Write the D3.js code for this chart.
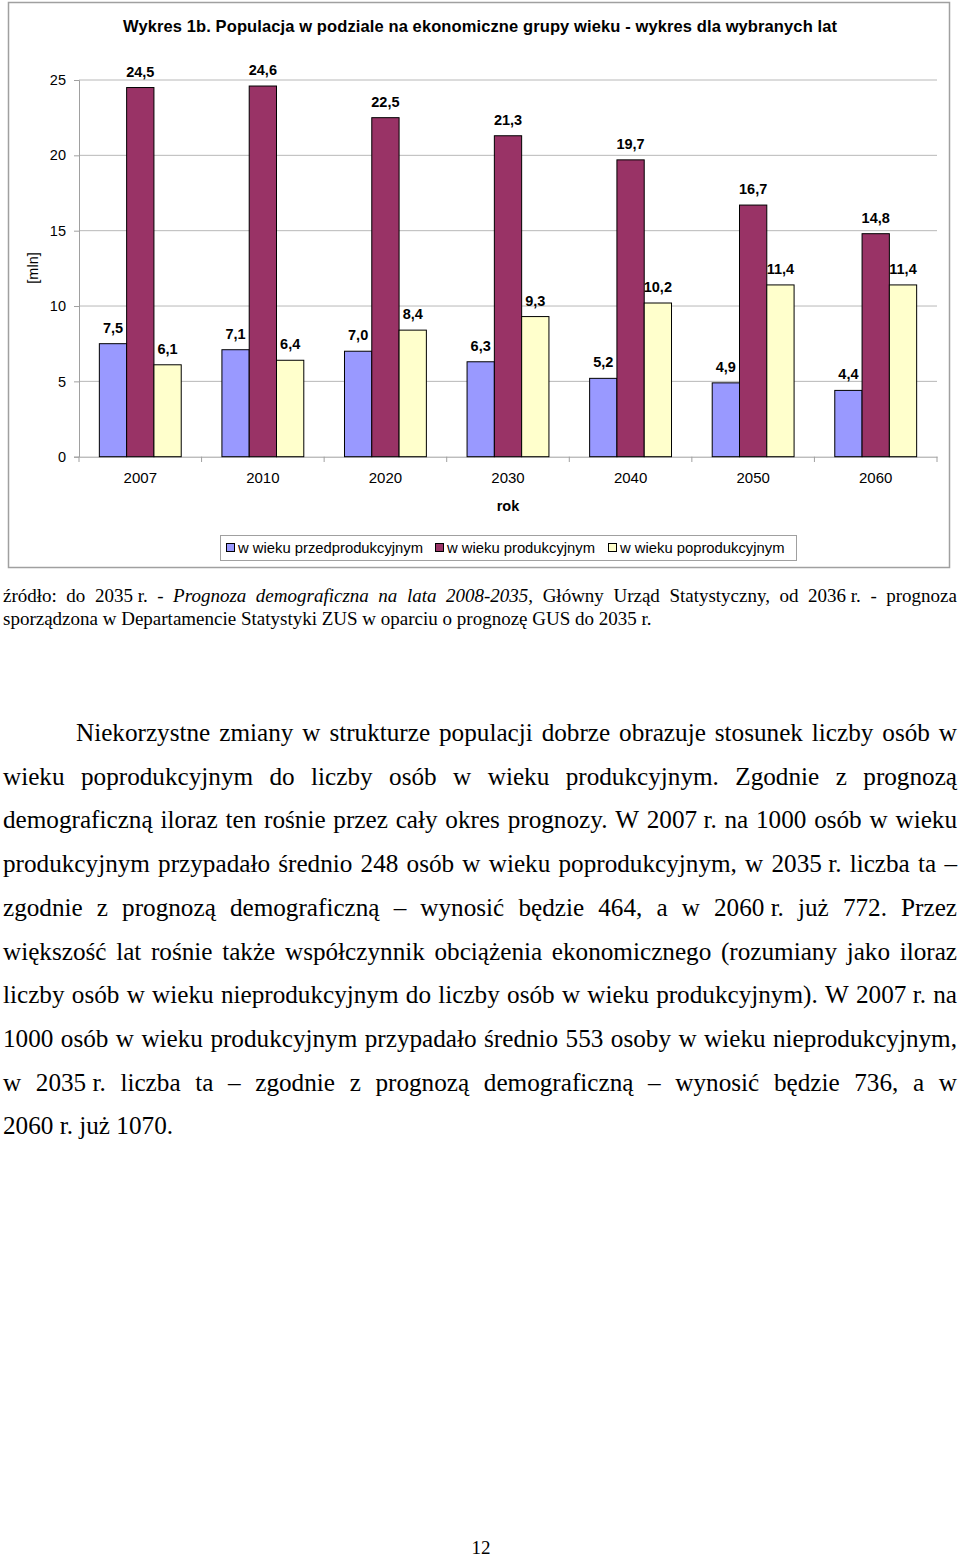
<!DOCTYPE html>
<html><head><meta charset="utf-8">
<script src="https://cdn.jsdelivr.net/npm/d3@7"></script>
<style>html,body{margin:0;padding:0;background:#fff;}svg{display:block;}</style>
</head><body>
<script>
const years = ["2007","2010","2020","2030","2040","2050","2060"];
const seriesNames = ["w wieku przedprodukcyjnym","w wieku produkcyjnym","w wieku poprodukcyjnym"];
const przed = [7.5,7.1,7.0,6.3,5.2,4.9,4.4];
const prod = [24.5,24.6,22.5,21.3,19.7,16.7,14.8];
const popr = [6.1,6.4,8.4,9.3,10.2,11.4,11.4];
const seriesValues = [przed, prod, popr];
const seriesColors = ["#9999FF","#993366","#FFFFCC"];
const yTicks = [0,5,10,15,20,25];
const titleText = "Wykres 1b. Populacja w podziale na ekonomiczne grupy wieku - wykres dla wybranych lat";
const yTitle = "[mln]";
const xTitle = "rok";

const sourceLines = [
  {justify:true, words:[[["źródło:",0]],[["do",0]],[["2035 r.",0]],[["-",0]],[["Prognoza",1]],[["demograficzna",1]],[["na",1]],[["lata",1]],[["2008-2035",1],[",",0]],[["Główny",0]],[["Urząd",0]],[["Statystyczny,",0]],[["od",0]],[["2036 r.",0]],[["-",0]],[["prognoza",0]]]},
  {justify:false, words:"sporządzona w Departamencie Statystyki ZUS w oparciu o prognozę GUS do 2035 r.".split(/ (?!r\.)/).map(w=>[[w,0]])}
];
const paraLines = [
  "Niekorzystne zmiany w strukturze populacji dobrze obrazuje stosunek liczby osób w",
  "wieku poprodukcyjnym do liczby osób w wieku produkcyjnym. Zgodnie z prognozą",
  "demograficzną iloraz ten rośnie przez cały okres prognozy. W 2007 r. na 1000 osób w wieku",
  "produkcyjnym przypadało średnio 248 osób w wieku poprodukcyjnym, w 2035 r. liczba ta –",
  "zgodnie z prognozą demograficzną – wynosić będzie 464, a w 2060 r. już 772. Przez",
  "większość lat rośnie także współczynnik obciążenia ekonomicznego (rozumiany jako iloraz",
  "liczby osób w wieku nieprodukcyjnym do liczby osób w wieku produkcyjnym). W 2007 r. na",
  "1000 osób w wieku produkcyjnym przypadało średnio 553 osoby w wieku nieprodukcyjnym,",
  "w 2035 r. liczba ta – zgodnie z prognozą demograficzną – wynosić będzie 736, a w",
  "2060 r. już 1070."
];
const pageNumber = "12";

const W = 960, H = 1559;
const svg = d3.select("body").append("svg").attr("width", W).attr("height", H);
const arial = "Liberation Sans, Arial, sans-serif";
const serif = "Liberation Serif, 'Times New Roman', serif";

// chart frame
svg.append("rect").attr("x",8.5).attr("y",2.5).attr("width",941).attr("height",565)
  .attr("fill","#fff").attr("stroke","#a0a0a0").attr("stroke-width",1.5);

svg.append("text").attr("x",480).attr("y",32).attr("text-anchor","middle")
  .attr("font-family",arial).attr("font-weight","bold").attr("font-size",16.5)
  .attr("textLength",714).attr("lengthAdjust","spacing").text(titleText);

const x0 = d3.scaleBand().domain(years).range([79,937]).paddingInner(0).paddingOuter(0);
const bw = x0.bandwidth();
const x1 = d3.scaleBand().domain(d3.range(3)).range([bw*0.166, bw*0.834]).padding(0);
const y = d3.scaleLinear().domain([0,25]).range([456.7,80]);

// grid
svg.append("g").selectAll("line").data(yTicks.filter(d=>d>0)).join("line")
  .attr("x1",79).attr("x2",937).attr("y1",d=>y(d)).attr("y2",d=>y(d))
  .attr("stroke","#b8b8b8").attr("stroke-width",1);

// y axis
const yAxis = svg.append("g").attr("transform","translate(79,0)")
  .call(d3.axisLeft(y).tickValues(yTicks).tickSize(5).tickPadding(8));
yAxis.select(".domain").attr("stroke","#a0a0a0");
yAxis.selectAll(".tick line").attr("stroke","#a0a0a0");
yAxis.selectAll(".tick text").attr("font-family",arial).attr("font-size",14.5).attr("fill","#000");

// x axis
const xAxis = svg.append("g").attr("transform","translate(0,456.7)")
  .call(d3.axisBottom(x0).tickSize(0).tickPadding(16));
xAxis.select(".domain").attr("stroke","#a0a0a0");
xAxis.selectAll(".tick text").attr("font-family",arial).attr("font-size",15).attr("fill","#000");
svg.append("g").selectAll("line").data(years.concat(["end"])).join("line")
  .attr("x1",(d,i)=>79+i*bw).attr("x2",(d,i)=>79+i*bw)
  .attr("y1",456.7).attr("y2",462).attr("stroke","#a0a0a0");

// bars
const fmt = v => d3.format(".1f")(v).replace(".",",");
const gBars = svg.append("g");
years.forEach((yr,i)=>{
  const g = gBars.append("g").attr("transform",`translate(${x0(yr)},0)`);
  seriesValues.forEach((vals,s)=>{
    g.append("rect").attr("x",x1(s)).attr("width",x1.bandwidth())
      .attr("y",y(vals[i])).attr("height",y(0)-y(vals[i]))
      .attr("fill",seriesColors[s]).attr("stroke","#000").attr("stroke-width",1);
  });
});
const gLab = svg.append("g");
years.forEach((yr,i)=>{
  seriesValues.forEach((vals,s)=>{
    gLab.append("text").attr("x",x0(yr)+x1(s)+x1.bandwidth()/2).attr("y",y(vals[i])-11)
      .attr("text-anchor","middle").attr("font-family",arial).attr("font-weight","bold")
      .attr("font-size",14.5).text(fmt(vals[i]));
  });
});

// axis titles
svg.append("text").attr("transform","translate(38,268) rotate(-90)").attr("text-anchor","middle")
  .attr("font-family",arial).attr("font-size",14.5).text(yTitle);
svg.append("text").attr("x",508).attr("y",511).attr("text-anchor","middle")
  .attr("font-family",arial).attr("font-weight","bold").attr("font-size",14.5).text(xTitle);

// legend
svg.append("rect").attr("x",220.5).attr("y",535.5).attr("width",576).attr("height",25)
  .attr("fill","#fff").attr("stroke","#a0a0a0");
const legX = [226, 435, 608];
seriesNames.forEach((n,s)=>{
  svg.append("rect").attr("x",legX[s]+0.5).attr("y",543.5).attr("width",8).attr("height",8)
    .attr("fill",seriesColors[s]).attr("stroke","#000");
  svg.append("text").attr("x",legX[s]+12).attr("y",553).attr("font-family",arial)
    .attr("font-size",14.8).text(n);
});

// justified text helper
function drawLine(words, xl, xr, yb, fs, justify){
  const g = svg.append("g");
  const nodes = words.map(segs=>{
    const t = g.append("text").attr("y",yb).attr("font-family",serif).attr("font-size",fs).attr("fill","#000");
    segs.forEach(([txt,it])=>{
      t.append("tspan").attr("font-style",it?"italic":"normal").text(txt);
    });
    return t;
  });
  const widths = nodes.map(n=>n.node().getComputedTextLength());
  const total = d3.sum(widths);
  let gap = fs*0.25;
  if(justify && nodes.length>1) gap = (xr-xl-total)/(nodes.length-1);
  let cx = xl;
  nodes.forEach((n,i)=>{ n.attr("x",cx); cx += widths[i]+gap; });
}

drawLine(sourceLines[0].words, 3, 957, 602, 19, true);
drawLine(sourceLines[1].words, 3, 957, 625, 19, false);

const splitWords = s => s.split(/ (?!r\.)/).map(w=>[[w,0]]);
paraLines.forEach((ln,i)=>{
  const last = i===paraLines.length-1;
  drawLine(splitWords(ln), i===0?76:3, 957, 741+i*43.7, 25.2, !last);
});

svg.append("text").attr("x",481).attr("y",1554).attr("text-anchor","middle")
  .attr("font-family",serif).attr("font-size",19).text(pageNumber);
</script>
</body></html>
